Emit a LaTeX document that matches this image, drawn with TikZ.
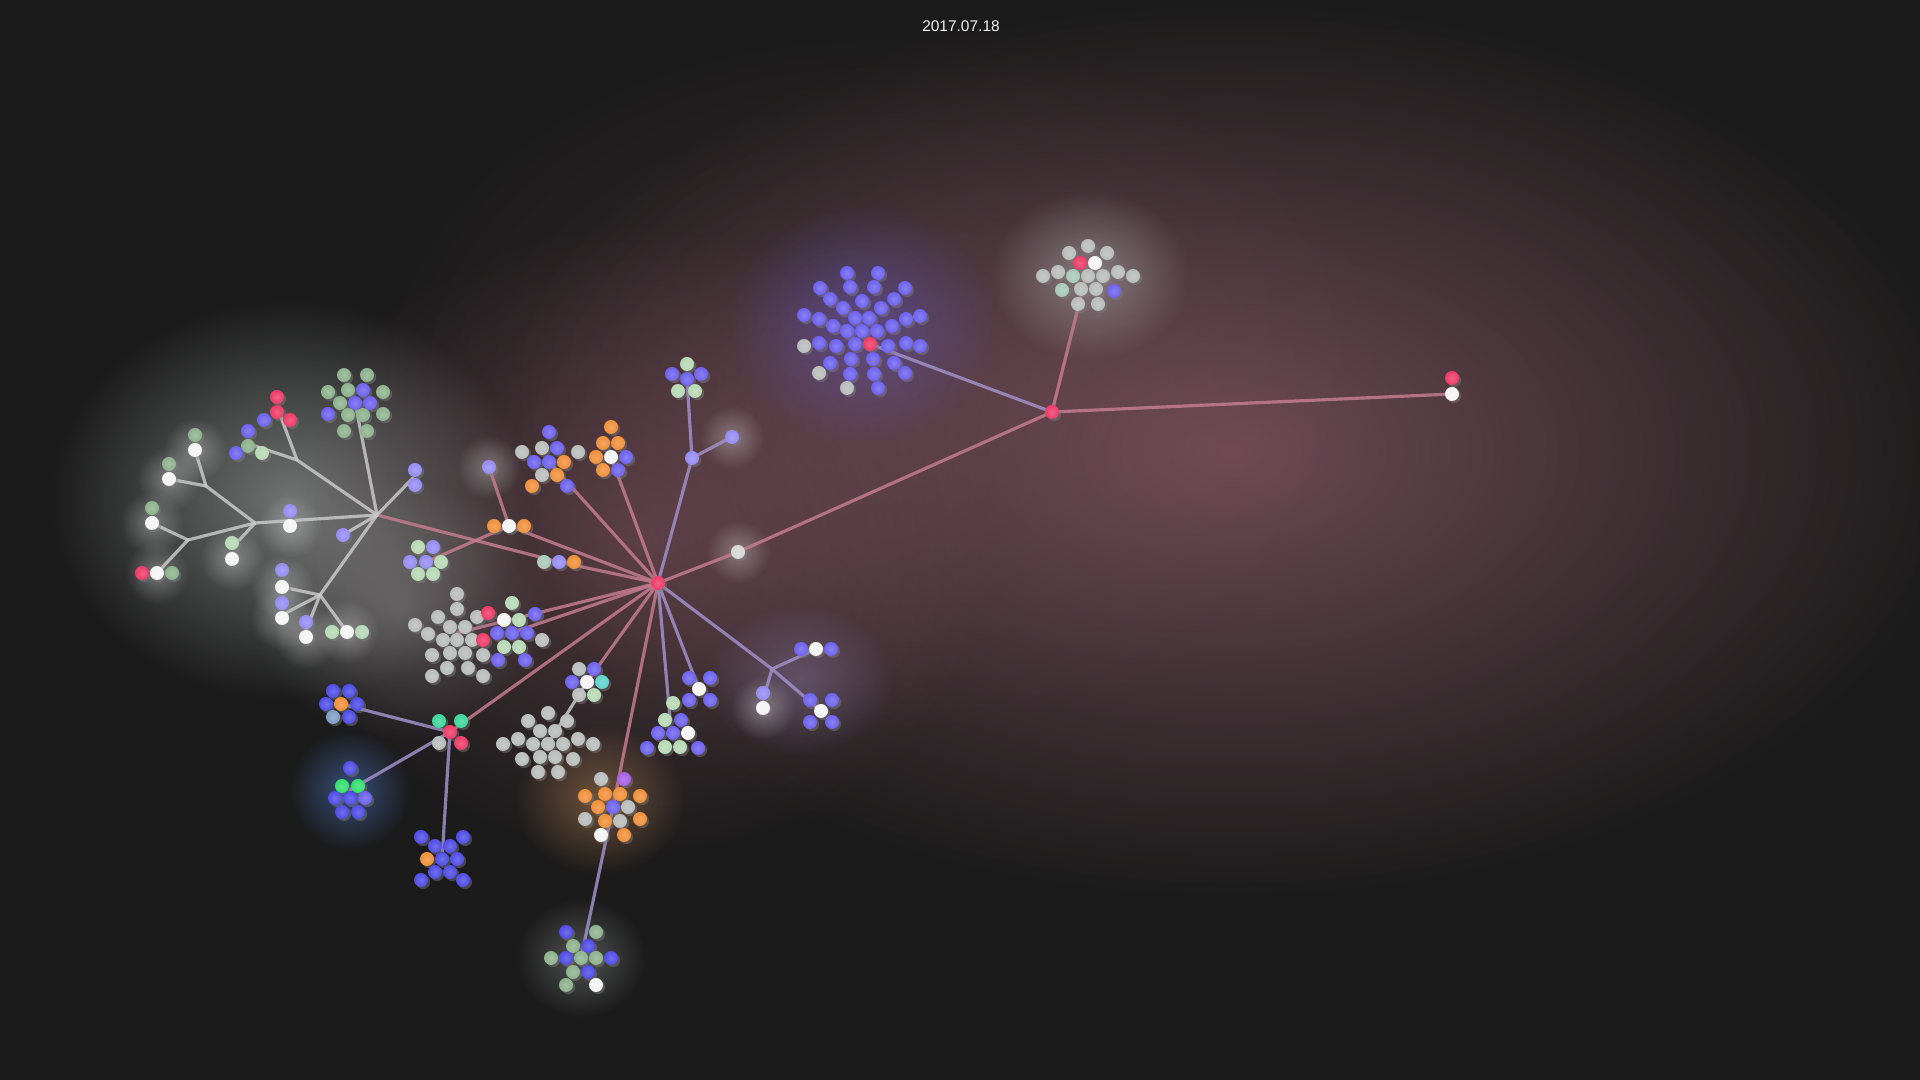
\documentclass[tikz,border=0pt]{standalone}
\usepackage{fontspec}
\newfontfamily\datefont{Liberation Sans}
\usetikzlibrary{fadings,shadows}
\definecolor{bgc}{HTML}{1B1B1B}
\definecolor{blu}{HTML}{6D62EE}
\definecolor{dbl}{HTML}{4F4DE6}
\definecolor{lil}{HTML}{958CF3}
\definecolor{sag}{HTML}{8DB28D}
\definecolor{pgr}{HTML}{B6D8B4}
\definecolor{gry}{HTML}{B8BCBB}
\definecolor{pnk}{HTML}{EE3B68}
\definecolor{org}{HTML}{F0903A}
\definecolor{wht}{HTML}{F4F4F4}
\definecolor{cyn}{HTML}{5ED2CC}
\definecolor{lim}{HTML}{34DF6E}
\definecolor{tgn}{HTML}{3ED49A}
\definecolor{vio}{HTML}{A35FE6}
\definecolor{gbl}{HTML}{7E9CC6}
\definecolor{mgr}{HTML}{A8C8B8}
\definecolor{pinkedge}{HTML}{C47C90}
\definecolor{liledge}{HTML}{A090C8}
\definecolor{gryedge}{HTML}{C8C8C8}
\tikzfading[name=glowfade, inner color=transparent!0, outer color=transparent!100]
\tikzset{
  ball/.style={circle, inner sep=0pt, minimum size=0.14cm, inner color=#1!80!white, outer color=#1,
    drop shadow={shadow xshift=0.6pt, shadow yshift=-0.6pt, opacity=0.45}},
  link/.style={line width=0.9pt, draw=#1, draw opacity=0.85},
  glow/.style={fill=#1, path fading=glowfade},
}
\begin{document}
\begin{tikzpicture}[x=0.01cm, y=-0.01cm, line join=round, line cap=round]
\useasboundingbox (0,0) rectangle (1920,1080);
\fill[bgc] (0,0) rectangle (1920,1080);
% glow
\fill[glow=pinkedge!90!black, opacity=0.55] (1230,450) ellipse (740 and 450);
\fill[glow=pinkedge!80!black, opacity=0.22] (880,380) ellipse (520 and 360);
\fill[glow=pinkedge!80!black, opacity=0.4] (640,540) ellipse (360 and 320);
\fill[glow=gry, opacity=0.55] (290,500) ellipse (240 and 200);
\fill[glow=gry, opacity=0.3] (400,610) ellipse (150 and 130);
\fill[glow=blu, opacity=0.4] (862,325) ellipse (135 and 120);
\fill[glow=gry!80!white, opacity=0.45] (1090,275) ellipse (100 and 85);
\fill[glow=liledge, opacity=0.35] (800,680) ellipse (95 and 75);
\fill[glow=org!70!gry, opacity=0.4] (600,800) ellipse (85 and 75);
\fill[glow=dbl!60!cyn, opacity=0.5] (350,790) ellipse (60 and 60);
\fill[glow=gry, opacity=0.35] (581,958) ellipse (65 and 60);
\foreach \x/\y in {195/450,169/479,152/523,157/573,232/559,290/526,282/587,282/618,306/637,347/632,738/552,489/467,732/437,763/708}
  \fill[glow=white, opacity=0.3] (\x,\y) ellipse (32 and 32);
% directories
\coordinate (hub) at (658,583);
\coordinate (tri) at (559,562);
\coordinate (og) at (509,526);
\coordinate (lgc) at (426,562);
\coordinate (liltop) at (489,467);
\coordinate (boc) at (549,462);
\coordinate (owc) at (611,457);
\coordinate (lv) at (692,458);
\coordinate (gbt) at (687,379);
\coordinate (lvb) at (732,437);
\coordinate (gw) at (738,552);
\coordinate (rj) at (1052,412);
\coordinate (bbc) at (870,344);
\coordinate (gtc) at (1085,280);
\coordinate (far) at (1452,394);
\coordinate (gyc) at (457,633);
\coordinate (bgc) at (511,633);
\coordinate (rgc) at (450,732);
\coordinate (bol) at (341,704);
\coordinate (gbl) at (350,790);
\coordinate (bob) at (442,859);
\coordinate (gbc) at (587,682);
\coordinate (gyd) at (548,744);
\coordinate (orc) at (613,807);
\coordinate (btc) at (581,958);
\coordinate (bwx) at (699,689);
\coordinate (bgw) at (670,718);
\coordinate (rb) at (772,669);
\coordinate (bwr) at (821,711);
\coordinate (rtri) at (816,649);
\coordinate (rpair) at (763,700);
\coordinate (lft) at (377,515);
\coordinate (lE) at (297,460);
\coordinate (redg) at (279,412);
\coordinate (bgg) at (252,445);
\coordinate (grn) at (355,402);
\coordinate (lpair) at (413,478);
\coordinate (lone) at (343,535);
\coordinate (lB) at (255,523);
\coordinate (lD) at (206,486);
\coordinate (lC) at (188,540);
\coordinate (lDa) at (195,450);
\coordinate (lDb) at (169,479);
\coordinate (lCa) at (152,523);
\coordinate (lCb) at (157,573);
\coordinate (lBa) at (232,548);
\coordinate (lF) at (320,595);
\coordinate (lFa) at (282,587);
\coordinate (lFb) at (282,615);
\coordinate (lFc) at (306,630);
\coordinate (lFd) at (347,632);
% links
\foreach \a/\b in {hub/tri,hub/og,hub/boc,hub/owc,hub/gw,gw/rj,rj/gtc,rj/far,hub/bgc,hub/gyc,hub/rgc,hub/gbc,hub/orc,tri/lft,og/lgc,og/liltop}
  \draw[link=pinkedge] (\a) -- (\b);
\foreach \a/\b in {hub/lv,lv/gbt,lv/lvb,hub/bgw,hub/bwx,hub/rb,rb/bwr,rb/rtri,rb/rpair,rj/bbc,rgc/bol,rgc/gbl,rgc/bob,orc/btc}
  \draw[link=liledge] (\a) -- (\b);
\foreach \a/\b in {lft/lE,lE/redg,lE/bgg,lft/grn,lft/lpair,lft/lone,lft/lB,lB/lD,lD/lDa,lD/lDb,lB/lC,lC/lCa,lC/lCb,lB/lBa,lft/lF,lF/lFa,lF/lFb,lF/lFc,lF/lFd,gbc/gyd}
  \draw[link=gryedge] (\a) -- (\b);
% files, left tree
\foreach \x/\y/\k [count=\i] in {277/397/pnk,277/412/pnk,290/420/pnk,264/420/blu,248/431/blu,248/446/sag,236/453/blu,262/453/pgr,
  195/435/sag,195/450/wht,169/464/sag,169/479/wht,152/508/sag,152/523/wht,142/573/pnk,157/573/wht,172/573/sag,
  232/543/pgr,232/559/wht,290/511/lil,290/526/wht,415/470/lil,415/485/lil,343/535/lil,
  282/570/lil,282/587/wht,282/603/lil,282/618/wht,306/622/lil,306/637/wht,332/632/pgr,347/632/wht,362/632/pgr}
  \node[ball=\k] (lf\i) at (\x,\y) {};
\foreach \x/\y/\k [count=\i] in {344/375/sag,367/375/sag,328/392/sag,348/390/sag,363/390/blu,383/392/sag,340/403/sag,355/403/blu,
  370/403/blu,328/414/blu,348/415/sag,363/415/sag,383/414/sag,344/431/sag,367/431/sag}
  \node[ball=\k] (gn\i) at (\x,\y) {};
% files, centre
\foreach \x/\y/\k [count=\i] in {494/526/org,509/526/wht,524/526/org,489/467/lil,418/547/pgr,433/547/lil,410/562/lil,426/562/lil,
  441/562/pgr,418/574/pgr,433/574/pgr,544/562/mgr,559/562/lil,574/562/org,
  549/432/blu,522/452/gry,542/448/gry,557/448/blu,578/452/gry,534/462/blu,549/462/blu,564/462/org,542/475/gry,557/475/org,532/486/org,567/486/blu,
  611/427/org,603/443/org,618/443/org,596/457/org,611/457/wht,626/457/blu,603/470/org,618/470/blu,
  687/364/pgr,672/374/blu,687/379/blu,701/374/blu,678/391/pgr,695/391/pgr,692/458/lil,732/437/lil,738/552/gry!60!white}
  \node[ball=\k] (ct\i) at (\x,\y) {};
\foreach \x/\y [count=\i] in {457/594,457/609,438/617,477/617,415/625,450/627,465/627,428/634,443/640,457/640,472/640,432/655,
  450/653,465/653,483/655,447/668,468/668,432/676,483/676,
  548/713,528/721,567/721,540/731,555/731,518/739,503/744,533/744,548/744,563/744,578/739,593/744,522/759,540/757,555/757,573/759,538/772,558/772}
  \node[ball=gry] (gy\i) at (\x,\y) {};
\foreach \x/\y/\k [count=\i] in {488/613/pnk,483/640/pnk,504/620/wht,512/603/pgr,519/620/pgr,535/614/blu,497/633/blu,512/633/blu,527/633/blu,
  542/640/gry,504/647/pgr,519/647/pgr,498/660/blu,525/660/blu,
  439/721/tgn,461/721/tgn,450/732/pnk,439/743/gry,461/743/pnk,
  333/691/dbl,349/691/dbl,326/704/dbl,341/704/org,357/704/dbl,333/717/gbl,349/717/dbl,
  350/768/dbl,342/786/lim,358/786/lim,335/798/dbl,350/798/dbl,365/798/blu,342/812/dbl,358/812/dbl,
  421/837/dbl,463/837/dbl,435/846/dbl,450/846/dbl,427/859/org,442/859/dbl,457/859/dbl,435/872/dbl,450/872/dbl,421/880/dbl,463/880/dbl}
  \node[ball=\k] (lo\i) at (\x,\y) {};
\foreach \x/\y/\k [count=\i] in {579/669/gry,594/669/blu,572/682/blu,587/682/wht,602/682/cyn,579/695/gry,594/695/pgr,
  601/779/gry,624/779/vio,585/796/org,605/794/org,620/794/org,640/796/org,598/807/org,613/807/blu,628/807/gry,585/819/gry,
  605/821/org,620/821/gry,640/819/org,601/835/wht,624/835/org,
  566/932/dbl,596/932/sag,573/946/sag,588/946/dbl,551/958/sag,566/958/dbl,581/958/sag,596/958/sag,611/958/dbl,573/972/sag,
  588/972/dbl,566/985/sag,596/985/wht,
  689/678/blu,710/678/blu,699/689/wht,689/700/blu,710/700/blu,
  673/703/pgr,665/720/pgr,681/720/blu,658/733/blu,673/733/blu,688/733/wht,647/748/blu,665/747/pgr,680/747/pgr,698/748/blu,
  810/700/blu,832/700/blu,821/711/wht,810/722/blu,832/722/blu,801/649/blu,816/649/wht,831/649/blu,763/693/lil,763/708/wht}
  \node[ball=\k] (rt\i) at (\x,\y) {};
% files, top right
\foreach \x/\y/\k [count=\i] in {847/273/blu,878/273/blu,820/288/blu,850/287/blu,874/287/blu,905/288/blu,830/299/blu,862/301/blu,
  894/299/blu,843/308/blu,881/308/blu,804/315/blu,819/319/blu,855/318/blu,869/318/blu,906/319/blu,920/316/blu,833/326/blu,
  892/326/blu,847/331/blu,862/331/blu,877/331/blu,804/346/gry,819/343/blu,836/346/blu,855/344/blu,870/344/pnk,888/346/blu,
  906/343/blu,920/346/blu,830/363/blu,851/359/blu,873/359/blu,894/363/blu,819/373/gry,850/374/blu,874/374/blu,905/373/blu,
  847/388/gry,878/388/blu}
  \node[ball=\k] (bb\i) at (\x,\y) {};
\foreach \x/\y/\k [count=\i] in {1088/246/gry,1069/253/gry,1107/253/gry,1080/263/pnk,1095/263/wht,1043/276/gry,1058/272/gry,
  1073/276/mgr,1088/276/gry,1103/276/gry,1118/272/gry,1133/276/gry,1062/290/mgr,1081/289/gry,1096/289/gry,1114/291/blu,
  1078/304/gry,1098/304/gry,1452/378/pnk,1452/394/wht}
  \node[ball=\k] (tr\i) at (\x,\y) {};
\node[ball=pnk] (hubball) at (hub) {};
\node[ball=pnk] (rjball) at (rj) {};
\node[text=wht, font=\datefont\fontsize{4.4}{5}\selectfont] (date) at (961,26) {2017.07.18};
\end{tikzpicture}
\end{document}
